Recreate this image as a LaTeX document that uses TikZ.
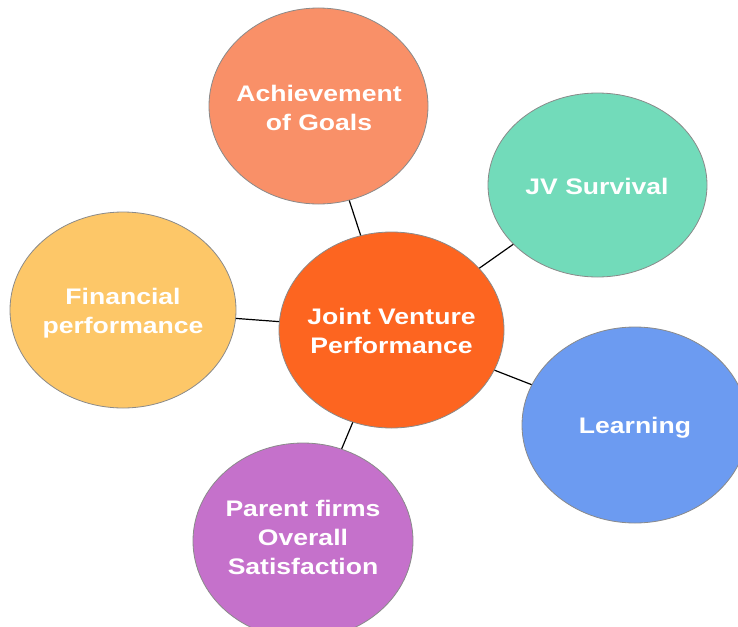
\documentclass[tikz,border=0pt]{standalone}
\usepackage{fontspec}
\newfontfamily\lblfont{Liberation Sans}[FakeStretch=1.18]
\usetikzlibrary{shapes.geometric}
\definecolor{cAch}{HTML}{F99068}
\definecolor{cJV}{HTML}{72DBBA}
\definecolor{cFin}{HTML}{FDC768}
\definecolor{cCtr}{HTML}{FD6520}
\definecolor{cLrn}{HTML}{6C9BF1}
\definecolor{cPar}{HTML}{C571CB}
\definecolor{rim}{HTML}{8A8A8A}
\tikzset{
  bubble/.style={ellipse, draw=rim, line width=0.8pt, inner sep=0pt},
  txt/.style={text=white, align=center, font=\lblfont\bfseries\fontsize{22.5}{29}\selectfont, inner sep=0pt},
  link/.style={draw=black, line width=1.2pt}
}
\begin{document}
\begin{tikzpicture}[x=1pt,y=-1pt]
\useasboundingbox (0,0) rectangle (738,626);
\node[bubble, fill=cAch, minimum width=219pt, minimum height=196pt] (ach) at (318.5,106) {};
\node[bubble, fill=cJV, minimum width=219pt, minimum height=184pt] (jv) at (597.5,185) {};
\node[bubble, fill=cFin, minimum width=226pt, minimum height=196pt] (fin) at (123,310) {};
\node[bubble, fill=cCtr, minimum width=225pt, minimum height=196pt] (ctr) at (391.5,330) {};
\node[bubble, fill=cLrn, minimum width=226pt, minimum height=196pt] (lrn) at (635,425) {};
\node[bubble, fill=cPar, minimum width=220pt, minimum height=196pt] (par) at (303,541) {};
\draw[link] (ctr) -- (ach);
\draw[link] (ctr) -- (jv);
\draw[link] (ctr) -- (fin);
\draw[link] (ctr) -- (lrn);
\draw[link] (ctr) -- (par);
\node[txt] (achT) at (319,107.5) {Achievement\\of Goals};
\node[txt] (jvT) at (597,186) {JV Survival};
\node[txt] (finT) at (123,313) {Financial\\performance};
\node[txt] (ctrT) at (391.5,331) {Joint Venture\\Performance};
\node[txt] (lrnT) at (635,428) {Learning};
\node[txt] (parT) at (303,537.5) {Parent firms\\Overall\\Satisfaction};
\end{tikzpicture}
\end{document}
